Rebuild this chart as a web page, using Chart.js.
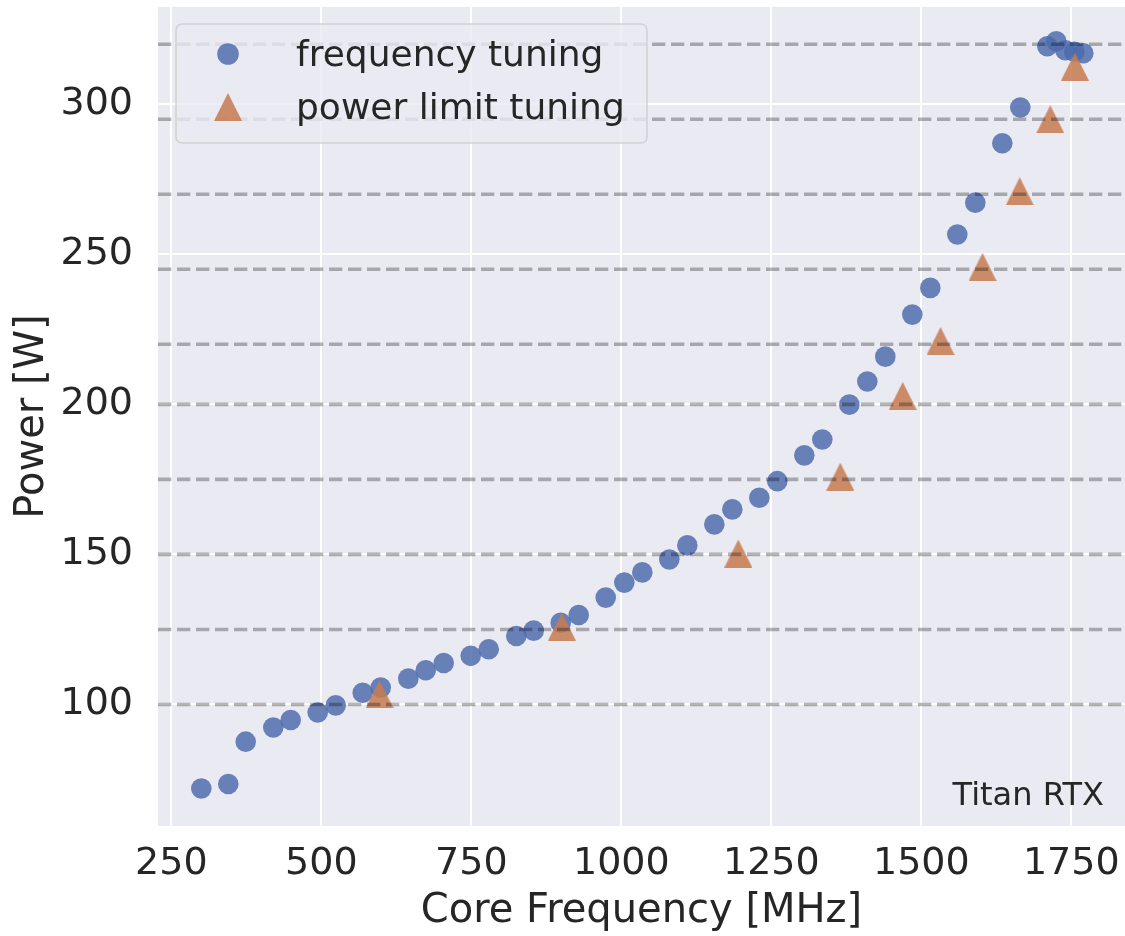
<!DOCTYPE html>
<html>
<head>
<meta charset="utf-8">
<script src="https://cdn.jsdelivr.net/npm/chart.js@4.4.0/dist/chart.umd.min.js"></script>
<style>
html,body{margin:0;padding:0;background:#fff;overflow:hidden}
canvas{display:block}
</style>
</head>
<body>
<canvas id="c" width="1125" height="936"></canvas>
<script>
// ---- data ----
const seriesLabels = ['frequency tuning', 'power limit tuning'];
const freqTuningMHz = [300, 345, 374, 420, 449, 494, 524, 569, 599, 645, 674, 704, 749, 779, 825, 854, 899, 929, 974, 1005, 1035, 1080, 1110, 1155, 1185, 1230, 1260, 1305, 1335, 1380, 1410, 1440, 1485, 1515, 1560, 1590, 1635, 1665, 1710, 1725, 1740, 1755, 1770];
const freqTuningW   = [72, 73.5, 87.6, 92.3, 94.8, 97.3, 99.7, 103.9, 105.6, 108.6, 111.4, 113.8, 116.2, 118.4, 122.8, 124.6, 127.2, 129.8, 135.6, 140.6, 144, 148.3, 153, 160, 165, 168.9, 174.4, 183, 188.3, 199.9, 207.6, 215.9, 229.9, 238.8, 256.6, 267.2, 287, 298.9, 319.3, 321, 318, 317.5, 317];
const powerLimitMHz = [597, 901, 1195, 1365, 1469, 1532, 1602, 1664, 1715, 1756];
const powerLimitW   = [103.4, 125.9, 150.3, 175.9, 202.8, 221.1, 245.8, 271, 295, 312.5];
const powerLimitLevels = [100, 125, 150, 175, 200, 220, 245, 270, 295, 320];
const xTicks = [250, 500, 750, 1000, 1250, 1500, 1750];
const yTicks = [100, 150, 200, 250, 300];
const xRange = [227.8, 1839.5];
const yRange = [59.5, 332.4];
const xTitle = 'Core Frequency [MHz]';
const yTitle = 'Power [W]';
const gpuName = 'Titan RTX';

// ---- styles ----
const FONT = "'DejaVu Sans', 'Noto Sans', sans-serif";
const TEXT = '#262626';
const BLUE = 'rgba(76,106,172,0.83)';
const ORANGE = 'rgba(198,124,80,0.86)';

function triangleImage(size, color) {
  const c = document.createElement('canvas');
  c.width = size; c.height = size;
  const g = c.getContext('2d');
  g.fillStyle = color;
  g.beginPath();
  g.moveTo(size / 2, 0);
  g.lineTo(size, size);
  g.lineTo(0, size);
  g.closePath();
  g.fill();
  return c;
}
const triImg = triangleImage(28, ORANGE);

Chart.defaults.font.family = FONT;
Chart.defaults.color = TEXT;

const dashSets = powerLimitLevels.map(v => ({
  data: [{x: xRange[0], y: v}, {x: xRange[1], y: v}],
  showLine: true,
  borderColor: 'rgba(0,0,0,0.29)',
  borderWidth: 3.6,
  borderDash: [13.3, 5.7],
  pointRadius: 0,
  fill: false,
  order: 0
}));

const datasets = [
  ...dashSets,
  {
    label: seriesLabels[1],
    data: powerLimitMHz.map((x, i) => ({x, y: powerLimitW[i]})),
    pointStyle: triImg,
    pointRadius: 14,
    backgroundColor: ORANGE,
    borderWidth: 0,
    order: 1
  },
  {
    label: seriesLabels[0],
    data: freqTuningMHz.map((x, i) => ({x, y: freqTuningW[i]})),
    pointStyle: 'circle',
    pointRadius: 10.3,
    backgroundColor: BLUE,
    borderColor: BLUE,
    borderWidth: 0,
    order: 2
  }
];

const bgPlugin = {
  id: 'bg',
  beforeDraw(chart) {
    const {ctx, chartArea: a} = chart;
    ctx.save();
    ctx.fillStyle = '#EAEAF2';
    ctx.fillRect(a.left, a.top, a.right - a.left, a.bottom - a.top);
    ctx.restore();
  }
};

function roundRect(ctx, x, y, w, h, r) {
  ctx.beginPath();
  ctx.moveTo(x + r, y);
  ctx.lineTo(x + w - r, y);
  ctx.arcTo(x + w, y, x + w, y + r, r);
  ctx.lineTo(x + w, y + h - r);
  ctx.arcTo(x + w, y + h, x + w - r, y + h, r);
  ctx.lineTo(x + r, y + h);
  ctx.arcTo(x, y + h, x, y + h - r, r);
  ctx.lineTo(x, y + r);
  ctx.arcTo(x, y, x + r, y, r);
  ctx.closePath();
}

const legendPlugin = {
  id: 'legendBox',
  afterDatasetsDraw(chart) {
    const {ctx, chartArea: a} = chart;
    const bx = a.left + 18, by = a.top + 17, bw = 471, bh = 119;
    ctx.save();
    roundRect(ctx, bx, by, bw, bh, 6);
    ctx.fillStyle = 'rgba(234,234,242,0.8)';
    ctx.fill();
    ctx.lineWidth = 1.6;
    ctx.strokeStyle = 'rgba(204,204,204,0.8)';
    ctx.stroke();
    const entries = [datasets[datasets.length - 1], datasets[datasets.length - 2]];
    const rows = [by + 30, by + 83];
    entries.forEach((ds, i) => {
      const mx = bx + 52, my = rows[i];
      if (ds.pointStyle === 'circle') {
        ctx.fillStyle = ds.backgroundColor;
        ctx.beginPath();
        ctx.arc(mx, my, 10.8, 0, Math.PI * 2);
        ctx.fill();
      } else {
        ctx.drawImage(ds.pointStyle, mx - 14, my - 14, 28, 28);
      }
      ctx.fillStyle = TEXT;
      ctx.font = '36px ' + FONT;
      ctx.textAlign = 'left';
      ctx.textBaseline = 'alphabetic';
      ctx.fillText(ds.label, bx + 120, my + 12);
    });
    ctx.font = '32px ' + FONT;
    ctx.textAlign = 'right';
    ctx.fillStyle = TEXT;
    ctx.fillText(gpuName, a.right - 21, a.bottom - 21);
    ctx.restore();
  }
};

function zeroPad(s) { s.paddingTop = 0; s.paddingBottom = 0; s.paddingLeft = 0; s.paddingRight = 0; }

new Chart(document.getElementById('c'), {
  type: 'scatter',
  data: {datasets},
  plugins: [bgPlugin, legendPlugin],
  options: {
    responsive: false,
    animation: false,
    events: [],
    layout: {autoPadding: false, padding: {top: 7, right: 0, left: 0, bottom: 0}},
    plugins: {legend: {display: false}, tooltip: {enabled: false}},
    scales: {
      x: {
        type: 'linear',
        min: xRange[0],
        max: xRange[1],
        afterBuildTicks: s => { s.ticks = xTicks.map(v => ({value: v})); },
        afterFit: s => { s.height = 110; zeroPad(s); },
        ticks: {font: {size: 38}, color: TEXT, padding: 15, maxRotation: 0, autoSkip: false, callback: v => String(v)},
        grid: {color: '#ffffff', lineWidth: 2, drawTicks: false},
        border: {display: false},
        title: {display: true, text: xTitle, color: TEXT, font: {size: 40}, padding: {top: 0, bottom: 0}}
      },
      y: {
        type: 'linear',
        min: yRange[0],
        max: yRange[1],
        afterBuildTicks: s => { s.ticks = yTicks.map(v => ({value: v})); },
        afterFit: s => { s.width = 158; zeroPad(s); },
        ticks: {font: {size: 38}, color: TEXT, padding: 25, callback: v => String(v)},
        grid: {color: '#ffffff', lineWidth: 2, drawTicks: false},
        border: {display: false},
        title: {display: true, text: yTitle, color: TEXT, font: {size: 40}, padding: {top: 9, bottom: 0}}
      }
    }
  }
});
</script>
</body>
</html>
